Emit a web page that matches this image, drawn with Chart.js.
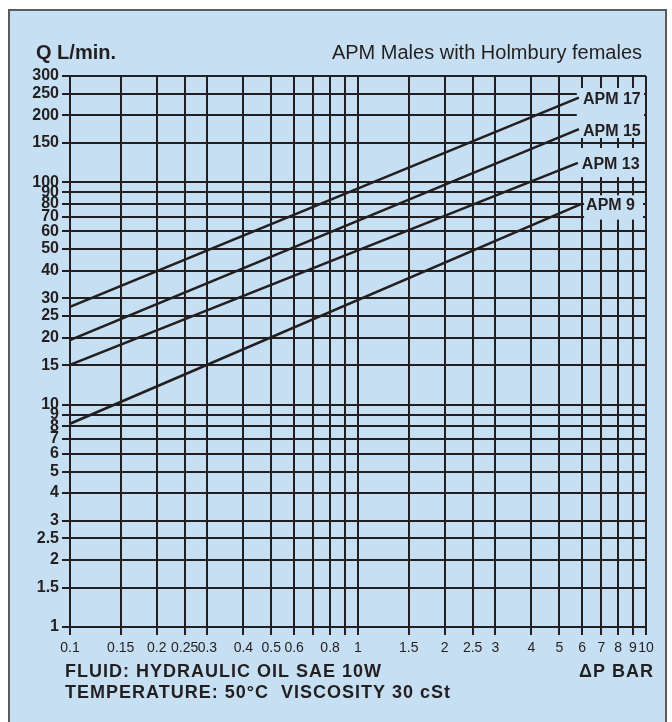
<!DOCTYPE html>
<html>
<head>
<meta charset="utf-8">
<script src="https://cdn.jsdelivr.net/npm/chart.js@4.4.1/dist/chart.umd.min.js"></script>
<style>
  html, body { margin: 0; padding: 0; background: #fff; }
  #wrap { position: relative; width: 672px; height: 722px; }
</style>
</head>
<body>
<div id="wrap"><canvas id="chart"></canvas></div>
<script>
// flow curves, each a straight line on log-log paper
const seriesNames = ["APM 17", "APM 15", "APM 13", "APM 9"]
const startBar = [0.1, 0.1, 0.1, 0.1]
const startFlow = [27.5, 19.5, 15.1, 8.2]
const endBar = [5.85, 5.85, 5.8, 6.0]
const endFlow = [240, 173, 122, 80]

const xTicks = [0.1, 0.15, 0.2, 0.25, 0.3, 0.4, 0.5, 0.6, 0.7, 0.8, 0.9, 1, 1.5, 2, 2.5, 3, 4, 5, 6, 7, 8, 9, 10]
const xTickLabels = ["0.1", "0.15", "0.2", "0.25", "0.3", "0.4", "0.5", "0.6", "", "0.8", "", "1", "1.5", "2", "2.5", "3", "4", "5", "6", "7", "8", "9", "10"]
const yTicks = [1, 1.5, 2, 2.5, 3, 4, 5, 6, 7, 8, 9, 10, 15, 20, 25, 30, 40, 50, 60, 70, 80, 90, 100, 150, 200, 250, 300]
const yTickLabels = ["1", "1.5", "2", "2.5", "3", "4", "5", "6", "7", "8", "9", "10", "15", "20", "25", "30", "40", "50", "60", "70", "80", "90", "100", "150", "200", "250", "300"]

const INK = "#231f20"
const PANEL = "#c6dff2"
const FONT = "'Liberation Sans', Arial, Helvetica, sans-serif"

const panelPlugin = {
  id: "panel",
  beforeDraw(chart) {
    const ctx = chart.ctx
    ctx.save()
    ctx.fillStyle = "#fff"
    ctx.fillRect(0, 0, chart.width, chart.height)
    ctx.fillStyle = PANEL
    ctx.fillRect(9, 10, 657, 720)
    ctx.strokeStyle = "#5b5b5b"
    ctx.lineWidth = 2
    ctx.strokeRect(9, 10, 657, 720)
    ctx.restore()
  }
}

// the label boxes hide the grid behind the curve names
const maskPlugin = {
  id: "masks",
  beforeDatasetsDraw(chart) {
    const { ctx, chartArea: area, scales: { x, y } } = chart
    const left = x.getPixelForValue(5.75)
    const boxes = [
      [left, area.top + 12, area.right - 2, y.getPixelForValue(150) - 5],
      [left, y.getPixelForValue(150) + 5, area.right - 2, y.getPixelForValue(100) - 5],
      [x.getPixelForValue(6) + 2, y.getPixelForValue(90) + 3, area.right - 3, y.getPixelForValue(70) + 3]
    ]
    ctx.save()
    ctx.fillStyle = PANEL
    boxes.forEach(([x0, y0, x1, y1]) => ctx.fillRect(x0, y0, x1 - x0, y1 - y0))
    ctx.restore()
  },
  afterDraw(chart) {
    const { ctx, scales: { x, y } } = chart
    ctx.save()
    ctx.fillStyle = INK
    ctx.textBaseline = "middle"
    ctx.font = "bold 16px " + FONT
    seriesNames.forEach((name, i) => {
      ctx.fillText(name, x.getPixelForValue(endBar[i]) + 4, y.getPixelForValue(endFlow[i]) + 2)
    })

    ctx.font = "bold 20px " + FONT
    ctx.fillText("Q L/min.", 36, 53)
    ctx.font = "20px " + FONT
    ctx.textAlign = "right"
    ctx.fillText("APM Males with Holmbury females", 642, 53)

    ctx.font = "bold 18px " + FONT
    ctx.letterSpacing = "1px"
    ctx.fillText("\u0394P BAR", 654, 672)
    ctx.textAlign = "left"
    ctx.fillText("FLUID: HYDRAULIC OIL SAE 10W", 65, 672)
    ctx.fillText("TEMPERATURE: 50\u00b0C  VISCOSITY 30 cSt", 65, 693)
    ctx.restore()
  }
}

const datasets = seriesNames.map((name, i) => ({
  label: name,
  data: [{ x: startBar[i], y: startFlow[i] }, { x: endBar[i], y: endFlow[i] }],
  showLine: true,
  borderColor: INK,
  borderWidth: 2.5,
  pointRadius: 0
}))

const gridOpts = { color: INK, lineWidth: 2, tickLength: 8, drawTicks: true }

new Chart(document.getElementById("chart"), {
  type: "scatter",
  data: { datasets },
  options: {
    responsive: true,
    maintainAspectRatio: false,
    animation: false,
    layout: { padding: { left: 0, top: 76, right: 26, bottom: 0 } },
    plugins: { legend: { display: false }, tooltip: { enabled: false } },
    scales: {
      x: {
        type: "logarithmic",
        min: 0.1,
        max: 10,
        afterBuildTicks: (s) => { s.ticks = xTicks.map(v => ({ value: v })) },
        afterFit: (s) => { s.height = 95 },
        grid: gridOpts,
        border: { color: INK, width: 2 },
        ticks: {
          autoSkip: false,
          maxRotation: 0,
          padding: 5,
          color: INK,
          font: { family: FONT, size: 14 },
          callback: (v, i) => xTickLabels[i]
        }
      },
      y: {
        type: "logarithmic",
        min: 1,
        max: 300,
        afterBuildTicks: (s) => { s.ticks = yTicks.map(v => ({ value: v })) },
        afterFit: (s) => { s.width = 70 },
        grid: gridOpts,
        border: { color: INK, width: 2 },
        ticks: {
          autoSkip: false,
          padding: 3,
          color: INK,
          font: { family: FONT, size: 16, weight: "bold" },
          callback: (v, i) => yTickLabels[i]
        }
      }
    }
  },
  plugins: [panelPlugin, maskPlugin]
})
</script>
</body>
</html>
